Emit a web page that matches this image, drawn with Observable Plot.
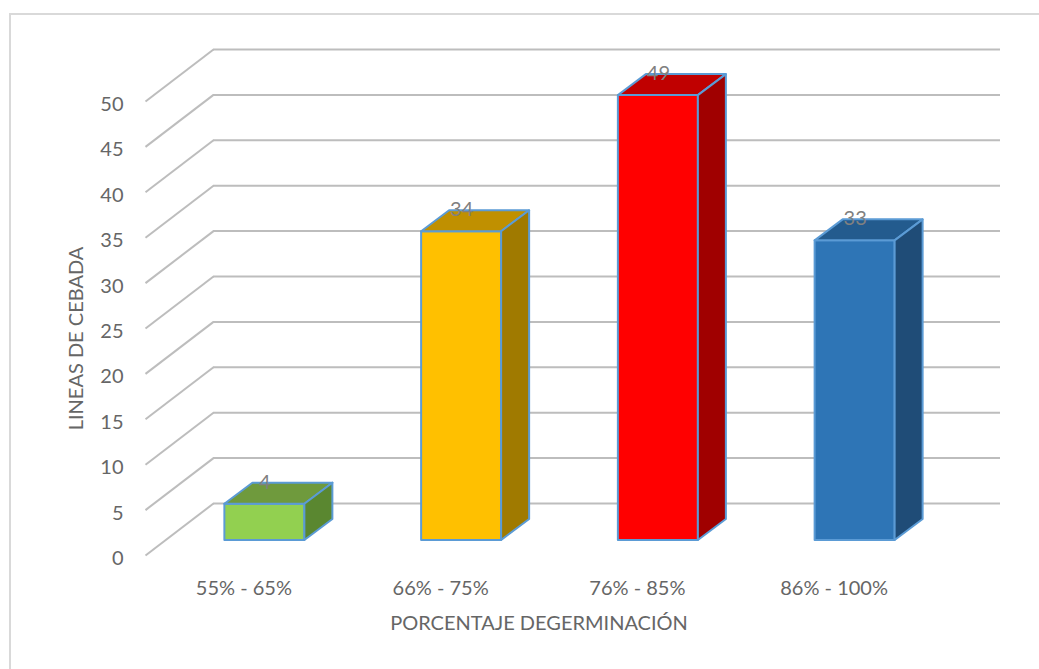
<!DOCTYPE html>
<html>
<head>
<meta charset="utf-8">
<script src="https://cdn.jsdelivr.net/npm/d3@7"></script>
<script src="https://cdn.jsdelivr.net/npm/@observablehq/plot@0.6"></script>
<style>
  html, body { margin: 0; padding: 0; background: #fff; overflow: hidden; }
  #wrap { position: relative; width: 1039px; height: 669px; }
  #frame { position: absolute; left: 9px; top: 13px; width: 1100px; height: 700px;
           border: 2px solid #d9d9d9; box-sizing: border-box; pointer-events: none; }
  #chart { position: absolute; left: 0; top: 0; }
</style>
</head>
<body>
<div id="wrap"><div id="chart"></div><div id="frame"></div></div>
<script>
// ---- data ----
const categories = ["55% - 65%", "66% - 75%", "76% - 85%", "86% - 100%"];
const values = [4, 34, 49, 33];
const frontColors = ["#92D050", "#FFC000", "#FF0000", "#2E75B6"];
const topColors = ["#6F9A3D", "#C09000", "#C00000", "#235B8E"];
const sideColors = ["#5A8730", "#A07A00", "#A00000", "#1F4C77"];
const yTicks = [0, 5, 10, 15, 20, 25, 30, 35, 40, 45, 50];
const xTitle = "PORCENTAJE DEGERMINACIÓN";
const yTitle = "LINEAS DE CEBADA";

// ---- layout ----
const W = 1039, H = 669;
const mL = 145, mR = 107, mT = 101, mB = 114;
const N = categories.length;
const pxX = (W - mL - mR) / N;   // px per x unit
const pxY = (H - mT - mB) / 50;  // px per y unit
const wall = [68, 52];      // back wall depth (px)
const barOff = [21, 15];    // bar front offset from floor front (px)
const barDepth = [28, 21];  // bar depth (px)
const barHalf = 40 / pxX;   // half bar width in x units
const bdx = barDepth[0] / pxX, bdy = barDepth[1] / pxY;

const bars = categories.map((c, i) => ({
  c, i, v: values[i], x1: i + 0.5 - barHalf, x2: i + 0.5 + barHalf,
  front: frontColors[i], top: topColors[i], side: sideColors[i]
}));
const topPts = bars.flatMap(b => [
  {id: b.i, y: b.v, x1: b.x1, x2: b.x2, fill: b.top},
  {id: b.i, y: b.v + bdy, x1: b.x1 + bdx, x2: b.x2 + bdx, fill: b.top}
]);
const sidePts = bars.flatMap(b => [
  {id: b.i, x: b.x2, y1: 0, y2: b.v, fill: b.side},
  {id: b.i, x: b.x2 + bdx, y1: bdy, y2: b.v + bdy, fill: b.side}
]);
const grid = yTicks.map(t => ({t, a: 0, b: N, w: wall[0] / pxX, t2: t + wall[1] / pxY}));

const gridColor = "#bdbdbd";
const edge = "#5B9BD5";
const textColor = "#666666";
const font = "Lato, 'Open Sans', sans-serif";

const plot = Plot.plot({
  width: W, height: H,
  marginLeft: mL, marginRight: mR, marginTop: mT, marginBottom: mB,
  x: {domain: [0, N], axis: null},
  y: {domain: [0, 50], axis: null},
  color: {type: "identity"},
  style: {background: "transparent", fontFamily: font},
  marks: [
    // back wall gridlines
    Plot.ruleY(grid, {y: "t", x1: "a", x2: "b", dx: wall[0], dy: -wall[1],
      stroke: gridColor, strokeWidth: 2}),
    // side wall diagonals
    Plot.link(grid, {x1: "a", y1: "t", x2: "w", y2: "t2",
      stroke: gridColor, strokeWidth: 2}),
    // bar front faces
    Plot.rect(bars, {x1: "x1", x2: "x2", y1: d => 0, y2: "v", fill: "front",
      stroke: edge, strokeWidth: 2, strokeLinejoin: "round", dx: barOff[0], dy: -barOff[1]}),
    // bar top faces
    Plot.area(topPts, {y1: "y", x1: "x1", x2: "x2", z: "id", fill: "fill",
      stroke: edge, strokeWidth: 2, strokeLinejoin: "round", dx: barOff[0], dy: -barOff[1]}),
    // bar side faces
    Plot.area(sidePts, {x1: "x", y1: "y1", y2: "y2", z: "id", fill: "fill",
      stroke: edge, strokeWidth: 2, strokeLinejoin: "round", dx: barOff[0], dy: -barOff[1]}),
    // value labels
    Plot.text(bars, {x: d => d.i + 0.5, y: "v", text: d => String(d.v), dx: barOff[0], dy: -37,
      fill: "#808080", fontSize: 20}),
    // y tick labels
    Plot.text(grid, {x: "a", y: "t", text: d => String(d.t), textAnchor: "end", dx: -22, dy: 3,
      fill: textColor, fontSize: 20}),
    // x tick labels
    Plot.text(bars, {x: d => d.i + 0.5, y: d => 0, text: "c", dy: 33, fill: textColor, fontSize: 20}),
    // axis titles
    Plot.text([xTitle], {frameAnchor: "bottom", text: d => d, textAnchor: "middle", lineAnchor: "middle",
      dy: 68, fill: textColor, fontSize: 20}),
    Plot.text([yTitle], {frameAnchor: "left", text: d => d, textAnchor: "middle", lineAnchor: "middle",
      rotate: -90, dx: -69, dy: 10, fill: textColor, fontSize: 20})
  ]
});
document.getElementById("chart").appendChild(plot);
</script>
</body>
</html>
